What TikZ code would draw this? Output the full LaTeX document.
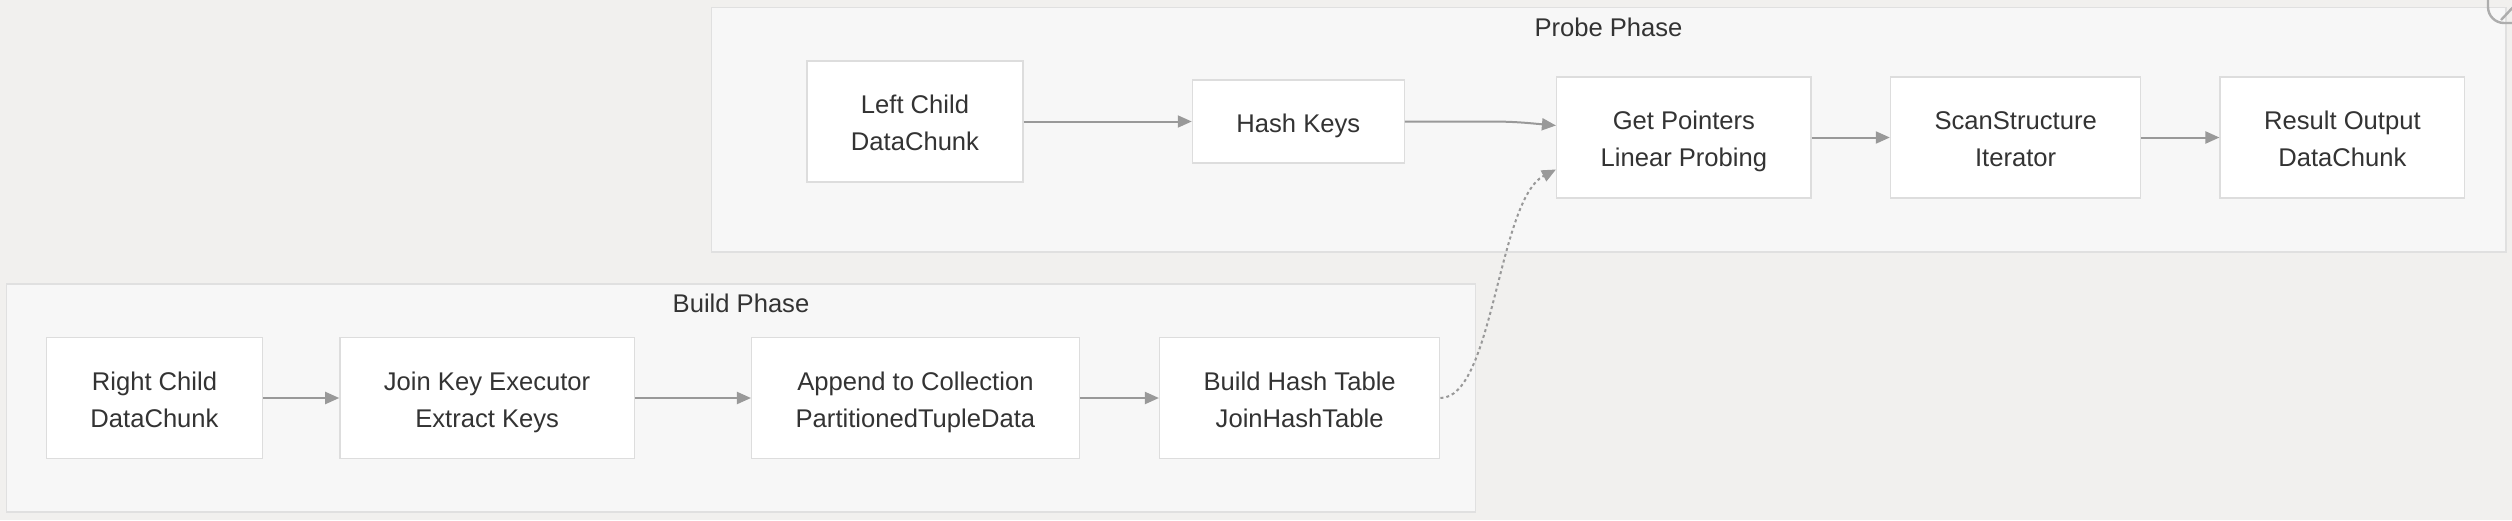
\documentclass[tikz,border=0pt]{standalone}
\usepackage{fontspec}
\setmainfont{Liberation Sans}
\usetikzlibrary{positioning,arrows.meta}
\definecolor{bgcol}{HTML}{F1F0EE}
\definecolor{clusterfill}{HTML}{F7F7F7}
\definecolor{clusterline}{HTML}{E0E0E0}
\definecolor{boxline}{HTML}{DDDDDD}
\definecolor{textcol}{HTML}{333333}
\definecolor{edgecol}{HTML}{999999}

\begin{document}
\begin{tikzpicture}[x=0.5pt, y=-0.5pt,
    font=\fontsize{12.8pt}{18.5pt}\selectfont, text=textcol,
    stage/.style = {draw=boxline, line width=0.7pt, fill=white, align=center,
                    inner xsep=22pt, minimum height=60.5pt,
                    text height=29.4pt, text depth=0pt},
    cluster/.style = {draw=clusterline, line width=0.7pt, fill=clusterfill},
    flow/.style = {draw=edgecol, line width=1pt, -{Triangle[length=7pt,width=6pt]}},
    hint/.style = {flow, dash pattern=on 1.5pt off 1.5pt}]
        \fill[bgcol] (0,0) rectangle (2512,520);
        \useasboundingbox (0,0) rectangle (2512,520);

        \draw[cluster] (711.5,7.5) rectangle (2506,252);
        \draw[cluster] (6.5,284) rectangle (1475.5,512);
        \node (probetitle) at (1608.5,27) {Probe Phase};
        \node (buildtitle) at (741,303) {Build Phase};

        \node[stage] (left) at (915,121.5) {Left Child\\DataChunk};
        \node[stage, minimum height=41.5pt, text height=10.9pt, right=84pt of left] (hash) {Hash Keys};
        \node[stage, right=75.5pt of hash, yshift=-8pt] (getptr) {Get Pointers\\Linear Probing};
        \node[stage, right=39pt of getptr] (scan) {ScanStructure\\Iterator};
        \node[stage, right=39pt of scan] (result) {Result Output\\DataChunk};

        \node[stage] (right) at (154.5,398) {Right Child\\DataChunk};
        \node[stage, right=38pt of right] (joinkey) {Join Key Executor\\Extract Keys};
        \node[stage, right=58pt of joinkey] (append) {Append to Collection\\PartitionedTupleData};
        \node[stage, right=39.5pt of append] (buildht) {Build Hash Table\\JoinHashTable};

        \draw[flow] (left) -- (hash);
        \draw[flow] (hash.east) -- ++(85,0) to[out=0, in=175] ([yshift=6pt]getptr.west);
        \draw[flow] (getptr) -- (scan);
        \draw[flow] (scan) -- (result);
        \draw[flow] (right) -- (joinkey);
        \draw[flow] (joinkey) -- (append);
        \draw[flow] (append) -- (buildht);
        \draw[hint] (buildht.east) .. controls +(53,0) and +(-58,30) .. ([yshift=-16pt]getptr.west);

        \draw[edgecol!80, line width=1.2pt, rounded corners=8pt] (2488,-30) rectangle (2560,23);
        \draw[edgecol!80, line width=1.2pt] (2501,20) -- (2516,4);
      \end{tikzpicture}
\end{document}
